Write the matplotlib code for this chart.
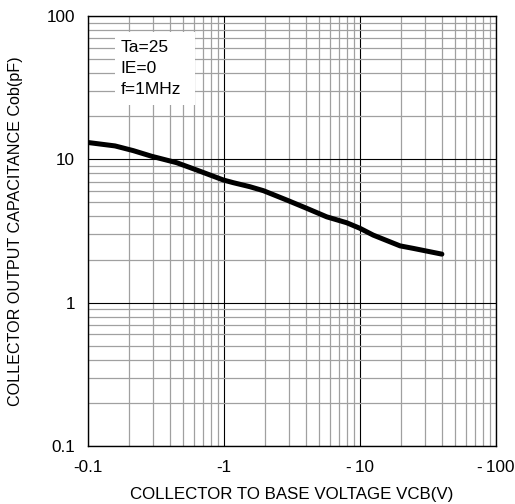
import matplotlib
matplotlib.use("Agg")
import matplotlib.pyplot as plt
from matplotlib.patches import Rectangle
from matplotlib.ticker import LogLocator, FixedLocator, NullFormatter

plt.rcParams['font.family'] = ['Liberation Sans', 'DejaVu Sans']

# curve (|VCB| in V, Cob in pF)
vcb = [0.1, 0.158, 0.215, 0.294, 0.449, 0.63, 0.99, 1.17, 1.55, 1.95,
       2.89, 4.06, 5.69, 7.98, 10.0, 12.5, 19.7, 24.7, 40.0]
cob = [13.1, 12.4, 11.5, 10.5, 9.47, 8.42, 7.17, 6.87, 6.44, 6.04,
       5.20, 4.55, 3.97, 3.61, 3.30, 2.96, 2.49, 2.39, 2.18]

x_ticks = [0.1, 1, 10, 100]
x_labels = ['-0.1', '-1', '-\u200910', '-\u2009100']
y_ticks = [0.1, 1, 10, 100]
y_labels = ['0.1', '1', '10', '100']
cond_text = ['Ta=25', 'IE=0', 'f=1MHz']

fig = plt.figure(figsize=(5.15, 5.04), dpi=100)
ax = fig.add_axes([0.1709, 0.1151, 0.7922, 0.8532])

ax.set_xscale('log')
ax.set_yscale('log')
ax.set_xlim(0.1, 100)
ax.set_ylim(0.1, 100)

ax.xaxis.set_major_locator(FixedLocator(x_ticks))
ax.yaxis.set_major_locator(FixedLocator(y_ticks))
ax.set_xticklabels(x_labels)
ax.set_yticklabels(y_labels)
ax.xaxis.set_minor_locator(LogLocator(base=10, subs=range(2, 10)))
ax.yaxis.set_minor_locator(LogLocator(base=10, subs=range(2, 10)))
ax.xaxis.set_minor_formatter(NullFormatter())
ax.yaxis.set_minor_formatter(NullFormatter())

ax.set_axisbelow(True)
ax.grid(True, which='minor', color='#a0a0a0', lw=0.9)
ax.grid(True, which='major', color='black', lw=0.8)
ax.tick_params(which='both', length=0, labelsize=12.3)
ax.tick_params(axis='x', pad=10)
ax.tick_params(axis='y', pad=9.4)

for s in ax.spines.values():
    s.set_color('black')
    s.set_linewidth(1.0)

# white box behind the test conditions
ax.add_patch(Rectangle((0.066, 0.793), 0.196, 0.170, transform=ax.transAxes,
                       facecolor='white', edgecolor='none', zorder=1))
for i, t in enumerate(cond_text):
    ax.text(0.080, 0.926 - i * 0.049, t, transform=ax.transAxes,
            fontsize=12.5, va='center', ha='left', zorder=3)

ax.plot(vcb, cob, color='black', lw=3.6, solid_capstyle='round', zorder=4)

ax.set_xlabel('COLLECTOR TO BASE VOLTAGE VCB(V)', fontsize=12.2, labelpad=9)
ax.set_ylabel('COLLECTOR OUTPUT CAPACITANCE Cob(pF)', fontsize=11.6, labelpad=17)

fig.savefig('out.png', dpi=100)
